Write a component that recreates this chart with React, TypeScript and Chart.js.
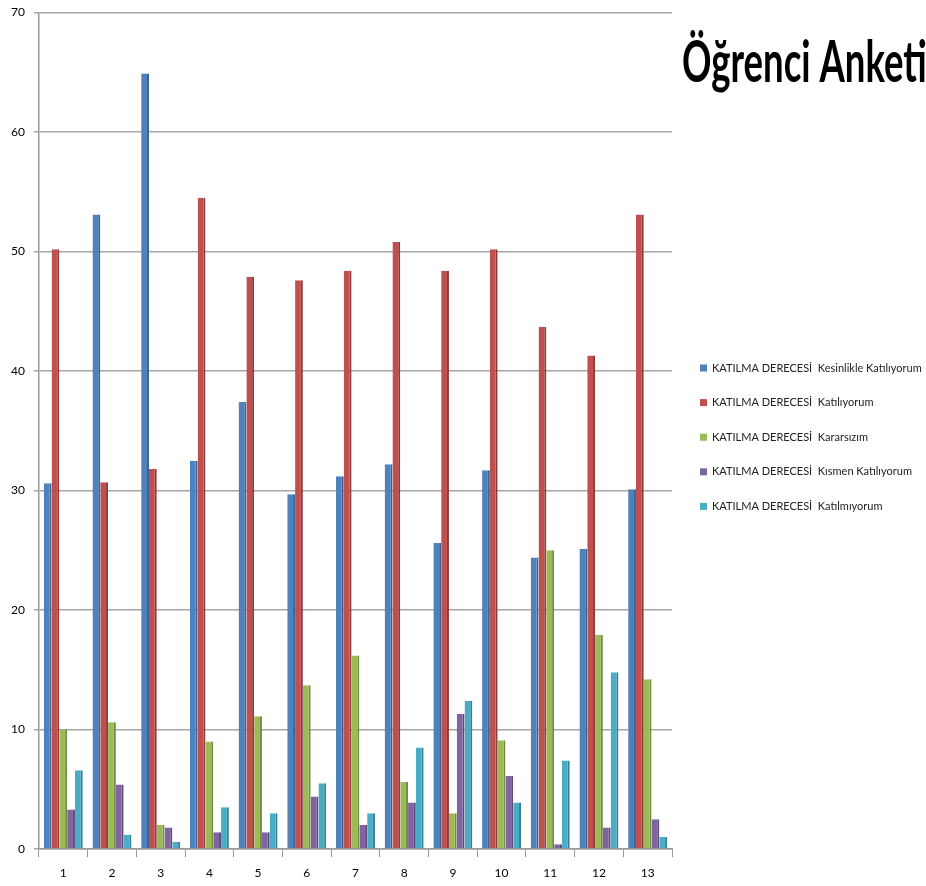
import React, { useEffect, useRef } from "react";
import { Chart, registerables } from "chart.js";

Chart.register(...registerables);

const categories = ["1", "2", "3", "4", "5", "6", "7", "8", "9", "10", "11", "12", "13"];
const seriesNames = [
  "KATILMA DERECESİ  Kesinlikle Katılıyorum",
  "KATILMA DERECESİ  Katılıyorum",
  "KATILMA DERECESİ  Kararsızım",
  "KATILMA DERECESİ  Kısmen Katılıyorum",
  "KATILMA DERECESİ  Katılmıyorum",
];
const kesinlikleKatiliyorum = [30.6, 53.1, 64.9, 32.5, 37.4, 29.7, 31.2, 32.2, 25.6, 31.7, 24.4, 25.1, 30.1];
const katiliyorum = [50.2, 30.7, 31.8, 54.5, 47.9, 47.6, 48.4, 50.8, 48.4, 50.2, 43.7, 41.3, 53.1];
const kararsizim = [10.0, 10.6, 2.0, 9.0, 11.1, 13.7, 16.2, 5.6, 3.0, 9.1, 25.0, 17.9, 14.2];
const kismenKatiliyorum = [3.3, 5.4, 1.8, 1.4, 1.4, 4.4, 2.0, 3.9, 11.3, 6.1, 0.4, 1.8, 2.5];
const katilmiyorum = [6.6, 1.2, 0.6, 3.5, 3.0, 5.5, 3.0, 8.5, 12.4, 3.9, 7.4, 14.8, 1.0];
const colors = ["#4F81BD", "#C0504D", "#9BBB59", "#8064A2", "#4BACC6"];
const sideColors = ["#3A6296", "#8E3A38", "#718B40", "#5E4A79", "#348096"];
const titleText = "Öğrenci Anketi";

const titlePlugin = {
  id: "cornerTitle",
  afterDraw(chart: any) {
    const ctx = chart.ctx;
    ctx.save();
    ctx.fillStyle = "#000";
    ctx.font = "bold 58px Lato";
    ctx.textBaseline = "alphabetic";
    ctx.translate(682, 82);
    ctx.scale(0.63, 1);
    ctx.fillText(titleText, 0, 0);
    ctx.restore();
  },
};

const sideLegendPlugin = {
  id: "sideLegend",
  afterDraw(chart: any) {
    const ctx = chart.ctx;
    const left = 700;
    const firstY = 368;
    const step = 34.6;
    ctx.save();
    ctx.font = "11px Lato";
    ctx.textBaseline = "middle";
    ctx.textAlign = "left";
    chart.data.datasets.forEach((ds: any, i: number) => {
      const y = firstY + step * i;
      ctx.fillStyle = ds.backgroundColor;
      ctx.fillRect(left, y - 3.5, 7, 7);
      ctx.fillStyle = "#222";
      ctx.fillText(ds.label, left + 12, y);
    });
    ctx.restore();
  },
};

const bgPlugin = {
  id: "bg",
  beforeDraw(chart: any) {
    const ctx = chart.ctx;
    ctx.save();
    ctx.fillStyle = "#fff";
    ctx.fillRect(0, 0, chart.width, chart.height);
    ctx.restore();
  },
};

export default function App() {
  const ref = useRef<HTMLCanvasElement | null>(null);
  useEffect(() => {
    if (!ref.current) return;
    const all = [kesinlikleKatiliyorum, katiliyorum, kararsizim, kismenKatiliyorum, katilmiyorum];
    const chart = new Chart(ref.current, {
      type: "bar",
      data: {
        labels: categories,
        datasets: all.map((d, i) => ({
          label: seriesNames[i],
          data: d,
          backgroundColor: colors[i],
          borderColor: sideColors[i],
          borderWidth: { top: 0, left: 0, bottom: 0, right: 2 },
          borderSkipped: false,
          barPercentage: 1,
          categoryPercentage: 0.8,
        })),
      },
      options: {
        responsive: false,
        animation: false,
        layout: { padding: { left: 2, top: 10, right: 254, bottom: -3 } },
        plugins: {
          legend: { display: false },
          tooltip: { enabled: false },
          title: { display: false },
        },
        scales: {
          x: {
            grid: {
              display: true,
              drawOnChartArea: false,
              drawTicks: true,
              tickLength: 8,
              color: "#9a9a9a",
              offset: true,
            },
            border: { display: true, color: "#9a9a9a", width: 1.5 },
            ticks: { color: "#000", font: { family: "Lato", size: 12, lineHeight: 1 }, padding: 10 },
          },
          y: {
            min: 0,
            max: 70,
            ticks: { stepSize: 10, color: "#000", font: { family: "Lato", size: 12, lineHeight: 0.6 }, padding: 9 },
            grid: { color: "#a6a6a6", lineWidth: 1.5, tickLength: 5 },
            border: { display: true, color: "#9a9a9a", width: 1.5 },
          },
        },
      },
      plugins: [bgPlugin, titlePlugin, sideLegendPlugin],
    });
    return () => chart.destroy();
  }, []);
  return (
    <div style={{ position: "absolute", left: 0, top: 0, width: 926, height: 886 }}>
      <canvas ref={ref} width={926} height={886} />
    </div>
  );
}
